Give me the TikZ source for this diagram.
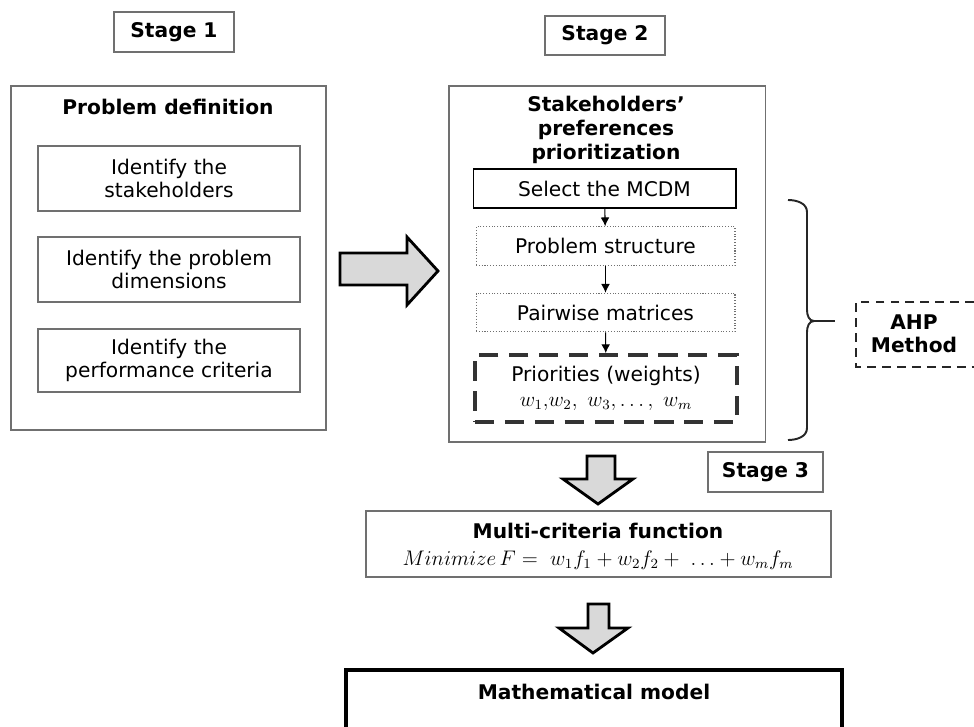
\documentclass[tikz,border=0pt]{standalone}
\usepackage{fontspec}
\setmainfont{DejaVu Sans}
\usetikzlibrary{arrows.meta}
\definecolor{boxgray}{HTML}{707070}
\definecolor{arrowfill}{HTML}{D9D9D9}
\newcommand{\boxfont}{\fontsize{11.5}{13.4}\selectfont}
\tikzset{
  stagebox/.style={draw=boxgray, line width=1.1pt, font=\boxfont\bfseries, minimum width=#1},
  stagebox/.default=2.4cm,
  outerbox/.style={draw=boxgray, line width=1.1pt},
  innerbox/.style={draw=boxgray, line width=0.8pt, align=center, minimum width=5.24cm, minimum height=1.3cm},
  dotbox/.style={draw=boxgray, densely dotted, line width=0.6pt, minimum width=5.18cm, minimum height=0.77cm},
  bigarrow/.style={draw=black, line width=1.6pt, fill=arrowfill, line join=miter},
  flow/.style={-{Latex[length=5pt,width=5pt]}, line width=0.6pt},
}
\begin{document}
\begin{tikzpicture}[x=0.02cm, y=-0.02cm, font=\boxfont]
  \useasboundingbox (0,0) rectangle (974,727);
  % stage 1
  \node[stagebox, minimum height=0.8cm] (stage1) at (174,32) {Stage 1};
  \node[outerbox, minimum width=6.3cm, minimum height=6.88cm] (define) at (168.5,258) {};
  \node[font=\boxfont\bfseries] (definetitle) at (168,107) {Problem definition};
  \node[innerbox] (stake) at (169,178.5) {Identify the\\stakeholders};
  \node[innerbox] (dims) at (169,269.5) {Identify the problem\\dimensions};
  \node[innerbox, minimum height=1.26cm] (crit) at (169,360.5) {Identify the\\performance criteria};
  % stage 2
  \node[stagebox, minimum height=0.78cm] (stage2) at (605,35.5) {Stage 2};
  \node[outerbox, minimum width=6.34cm, minimum height=7.12cm] (prefs) at (607,264) {};
  \node[align=center, font=\fontsize{11.5}{13.6}\selectfont\bfseries] (prefstitle) at (606,130) {Stakeholders’\\preferences\\prioritization};
  \node[draw, line width=0.6pt, minimum width=5.26cm, minimum height=0.78cm] (mcdm) at (604.5,188.5) {Select the MCDM};
  \node[dotbox] (struct) at (605.5,246) {Problem structure};
  \node[dotbox] (pair) at (605.5,312.5) {Pairwise matrices};
  \node[draw=black!80, line width=2.2pt, dash pattern=on 11pt off 6pt, align=center,
        minimum width=5.24cm, minimum height=1.34cm] (prio) at (606,388.5)
        {Priorities (weights)\\[1pt] $w_1{,}w_2,\ w_3,\ldots,\ w_m$};
  \draw[flow] (mcdm) -- (struct);
  \draw[flow] (struct) -- (pair);
  \draw[flow] (pair) -- (prio);
  % AHP brace
  \draw[black!85, line width=1.1pt] (788,200) to[out=0,in=90] (807,212) -- (807,310)
       to[out=-90,in=180] (814,321) to[out=180,in=90] (807,332) -- (807,428)
       to[out=-90,in=0] (788,440);
  \coordinate (bracetip) at (814,321);
  \node[align=center, font=\boxfont\bfseries] (ahp) at (914,334) {AHP\\Method};
  \draw[black!85, line width=1.1pt] (bracetip) -- (835,321);
  \draw[black!85, line width=1.1pt, dash pattern=on 5pt off 3.5pt] (974,302) -- (856,302) -- (856,367) -- (974,367);
  % big arrows
  \draw[bigarrow] (340,253) -- (407,253) -- (407,237) -- (438,271) -- (407,305) -- (407,285) -- (340,285) -- cycle;
  \draw[bigarrow] (587,456) -- (615,456) -- (615,479) -- (633,479) -- (598,504) -- (563,479) -- (587,479) -- cycle;
  \draw[bigarrow] (588,604) -- (609,604) -- (609,628) -- (628,628) -- (593,653) -- (559,628) -- (588,628) -- cycle;
  % stage 3
  \node[stagebox, minimum height=0.8cm, minimum width=2.3cm] (stage3) at (765.5,472) {Stage 3};
  \node[outerbox, minimum width=9.3cm, minimum height=1.32cm] (multi) at (598.5,544) {};
  \node[font=\boxfont\bfseries] (multititle) at (598,531) {Multi-criteria function};
  \node (formula) at (598,560) {$Minimize\,F=\ w_1f_1+w_2f_2+\ \ldots+w_mf_m$};
  % model
  \draw[line width=1.8pt] (346,735) -- (346,670) -- (842,670) -- (842,735);
  \node[font=\boxfont\bfseries] (model) at (594,692) {Mathematical model};
\end{tikzpicture}
\end{document}
